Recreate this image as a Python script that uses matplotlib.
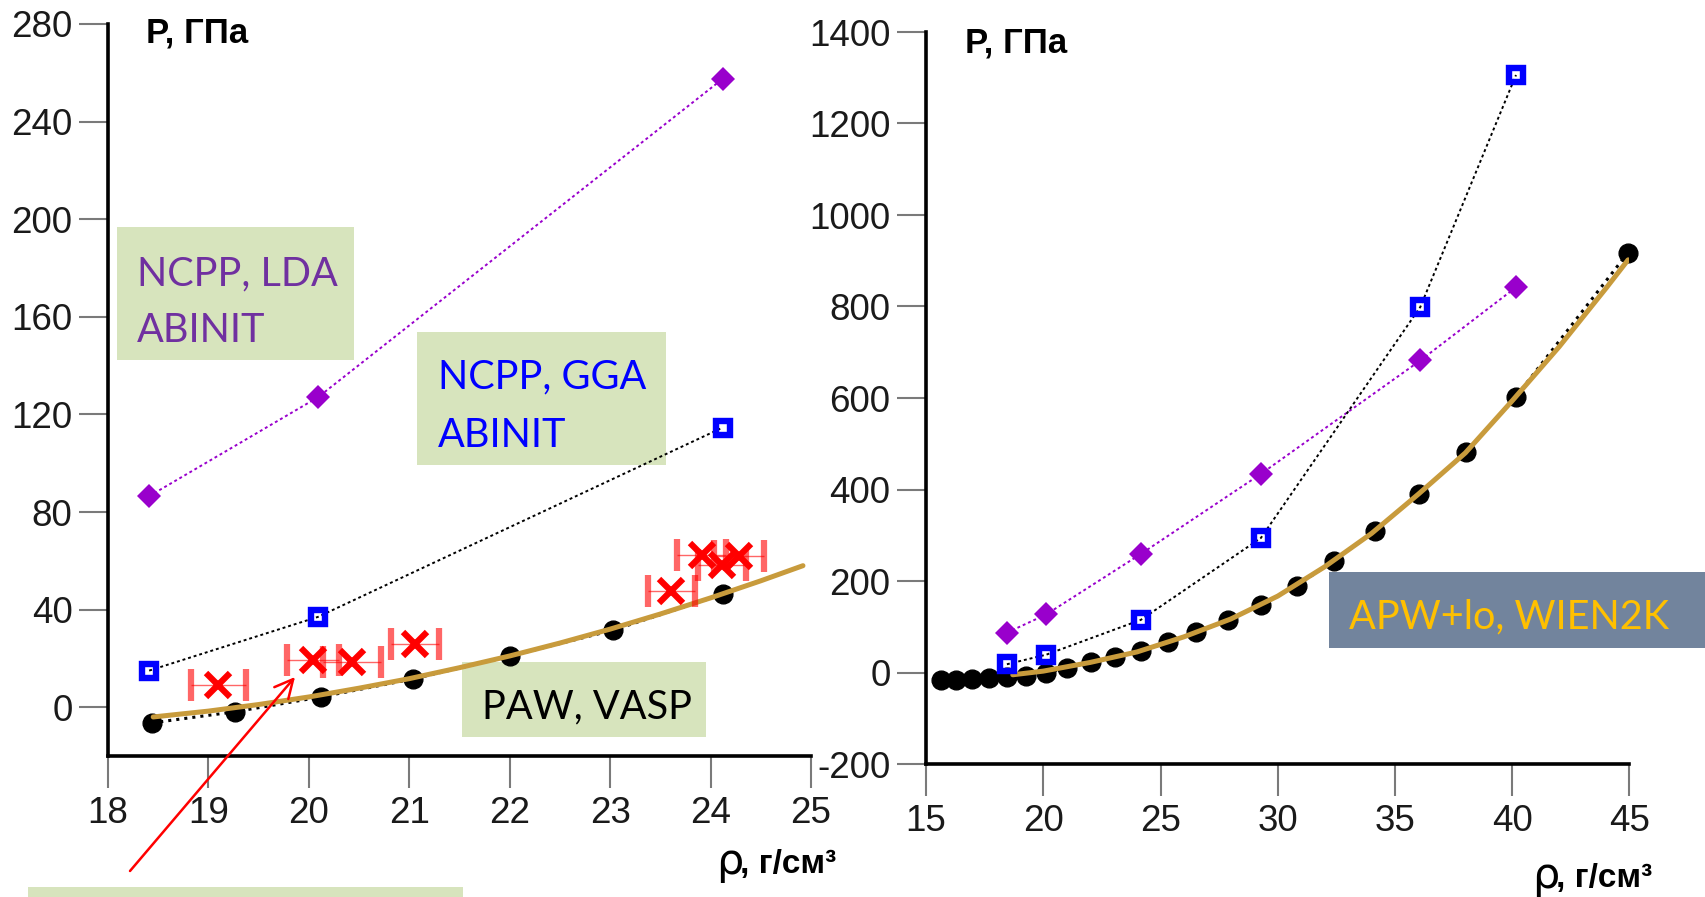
import matplotlib
matplotlib.use("Agg")
import matplotlib.pyplot as plt
from matplotlib.patches import Rectangle, FancyArrowPatch

W, H = 1706, 897

# left panel, rho = 18..25 g/cm3
paw_rho = [18.44, 19.26, 20.12, 21.04, 22.0, 23.03, 24.12]
paw_p = [-6.4, -1.9, 4.2, 11.6, 20.9, 31.6, 46.3]
paw_fit_rho = [18.45, 19.0, 19.5, 20.0, 20.5, 21.0, 21.5, 22.0, 22.5, 23.0, 23.5, 24.0, 24.5, 24.92]
paw_fit_p = [-4.0, -1.6, 1.1, 4.2, 7.8, 11.7, 16.2, 21.0, 26.3, 32.0, 38.2, 44.8, 51.8, 58.0]
lda_rho = [18.41, 20.09, 24.12]
lda_p = [86.5, 127.0, 257.5]
gga_rho = [18.41, 20.09, 24.12]
gga_p = [15.0, 37.0, 114.6]
exp_rho = [19.10, 20.04, 20.43, 21.06, 23.61, 23.91, 24.11, 24.28]
exp_p = [9.0, 19.3, 18.6, 25.8, 47.7, 62.3, 58.2, 61.9]
exp_drho = [0.27, 0.26, 0.29, 0.24, 0.235, 0.24, 0.24, 0.25]

# right panel, rho = 15..45 g/cm3
apw_rho = [15.65, 16.28, 16.98, 17.70, 18.45, 19.26, 20.13, 21.01, 22.04, 23.04, 24.16,
           25.32, 26.51, 27.86, 29.28, 30.8, 32.40, 34.15, 36.01, 38.02, 40.16, 44.94]
apw_p = [-16, -16, -14.5, -12.3, -10, -8.7, 0, 9.5, 23.4, 32.8, 47.4,
         65.6, 87.5, 113.7, 148, 189.5, 244.8, 309.7, 390.6, 481, 603, 918]
apw_fit_rho = [18.7, 20, 22, 24, 26, 28, 30, 32, 34, 36, 38, 40, 42, 44, 44.94]
apw_fit_p = [-5, 3, 22, 45, 78, 117, 167, 231, 304, 390, 480, 594, 712, 840, 902]
lda2_rho = [18.45, 20.13, 24.16, 29.28, 36.08, 40.16]
lda2_p = [87, 127, 259, 434, 682, 842]
gga2_rho = [18.45, 20.13, 24.16, 29.28, 36.08, 40.16]
gga2_p = [18, 39, 115, 294, 799, 1306]

GOLD = "#C89B3C"
PURPLE = "#9900CC"
BLUE = "#0000FF"
GREEN_BOX = "#D7E4BD"
SLATE_BOX = "#72849D"

plt.rcParams["font.family"] = ["Liberation Sans", "DejaVu Sans"]
plt.rcParams["axes.unicode_minus"] = False

fig = plt.figure(figsize=(W / 100, H / 100), dpi=100)


def fx(px):
    return px / W


def fy(py):
    return 1 - py / H


def panel(x0, x1, y0, y1):
    return fig.add_axes([fx(x0), fy(y1), (x1 - x0) / W, (y1 - y0) / H])


def box(x0, x1, y0, y1, color):
    fig.add_artist(Rectangle((fx(x0), fy(y1)), (x1 - x0) / W, (y1 - y0) / H,
                             transform=fig.transFigure, facecolor=color,
                             edgecolor="none", zorder=-1))


def label(x, y, s, color, size=28.5):
    fig.text(fx(x), fy(y), s, ha="left", va="baseline", color=color,
             fontsize=size, family=["Lato", "DejaVu Sans"], zorder=10)


ax1 = panel(108, 811, 24, 756)
ax2 = panel(926, 1629.5, 32, 764)

for ax in (ax1, ax2):
    ax.patch.set_visible(False)
    for s in ("top", "right"):
        ax.spines[s].set_visible(False)
    for s in ("left", "bottom"):
        ax.spines[s].set_linewidth(2.6)
        ax.spines[s].set_color("black")
    ax.tick_params(axis="y", length=21, width=1.5, color="#7a7a7a", pad=4.5,
                   labelsize=26.5, labelcolor="#1a1a1a")
    ax.tick_params(axis="x", length=23, width=1.5, color="#7a7a7a", pad=6,
                   labelsize=26.5, labelcolor="#1a1a1a")

ax1.set_xlim(18, 25)
ax1.set_ylim(-20, 280)
ax1.set_xticks(range(18, 26))
ax1.set_yticks(range(0, 281, 40))

ax2.set_xlim(15, 45)
ax2.set_ylim(-200, 1400)
ax2.set_xticks(range(15, 46, 5))
ax2.set_yticks(range(-200, 1401, 200))

dots = (0, (1.5, 1.5))

# left panel
ax1.plot(paw_rho, paw_p, ls=":", color="black", lw=2.2, marker="o", ms=13.5,
         mfc="black", mec="black", zorder=3, clip_on=False)
ax1.plot(paw_fit_rho, paw_fit_p, color=GOLD, lw=3.6, solid_capstyle="round", zorder=4)
ax1.errorbar(exp_rho, exp_p, xerr=exp_drho, fmt="x", color="red", ms=17, mew=4.5,
             ecolor=(1, 0, 0, 0.6), elinewidth=1.0, capsize=11.5, capthick=0.8, zorder=5)
ax1.plot(lda_rho, lda_p, ls=dots, color=PURPLE, lw=1.4, marker="D", ms=12,
         mfc=PURPLE, mec=PURPLE, mew=0, zorder=5, clip_on=False)
ax1.plot(gga_rho, gga_p, ls=dots, color="black", lw=1.4, zorder=5)
ax1.plot(gga_rho, gga_p, ls="none", marker="s", ms=10.5, mfc="none", mec=BLUE,
         mew=4.6, zorder=6, clip_on=False)

# right panel
ax2.plot(apw_rho, apw_p, ls=":", color="black", lw=2.2, marker="o", ms=13.5,
         mfc="black", mec="black", zorder=3, clip_on=False)
ax2.plot(apw_fit_rho, apw_fit_p, color=GOLD, lw=3.6, solid_capstyle="round", zorder=4)
ax2.plot(lda2_rho, lda2_p, ls=dots, color=PURPLE, lw=1.4, marker="D", ms=12,
         mfc=PURPLE, mec=PURPLE, mew=0, zorder=5, clip_on=False)
ax2.plot(gga2_rho, gga2_p, ls=dots, color="black", lw=1.4, zorder=5)
ax2.plot(gga2_rho, gga2_p, ls="none", marker="s", ms=10.5, mfc="none", mec=BLUE,
         mew=4.6, zorder=6, clip_on=False)

# axis captions
fig.text(fx(146), fy(43), "P, ГПа", fontsize=25, fontweight="bold", va="baseline")
fig.text(fx(965), fy(52), "P, ГПа", fontsize=25, fontweight="bold", va="baseline")
fig.text(fx(716), fy(874), "ρ", fontsize=31, family="DejaVu Sans", va="baseline")
fig.text(fx(740), fy(873), ", г/см³", fontsize=24, fontweight="bold", va="baseline")
fig.text(fx(1532), fy(888), "ρ", fontsize=31, family="DejaVu Sans", va="baseline")
fig.text(fx(1556), fy(887), ", г/см³", fontsize=24, fontweight="bold", va="baseline")

# method labels
box(117, 354, 227, 360, GREEN_BOX)
label(137, 285, "NCPP, LDA", "#7030A0")
label(137, 342, "ABINIT", "#7030A0")

box(417, 666, 332, 465, GREEN_BOX)
label(438, 388, "NCPP, GGA", BLUE)
label(438, 447, "ABINIT", BLUE)

box(462, 706, 662, 737, GREEN_BOX)
label(482, 718, "PAW, VASP", "black")

box(1329, 1706, 572, 648, SLATE_BOX)
label(1349, 628, "APW+lo, WIEN2K", "#FFC000")

box(28, 463, 887, 897, GREEN_BOX)

fig.add_artist(FancyArrowPatch((fx(130), fy(871)), (fx(295), fy(677)),
                               transform=fig.transFigure, color="red", lw=1.8,
                               arrowstyle="->,head_length=0.6,head_width=0.3",
                               mutation_scale=22, shrinkA=0, shrinkB=0, zorder=10))

fig.savefig("out.png", dpi=100)
